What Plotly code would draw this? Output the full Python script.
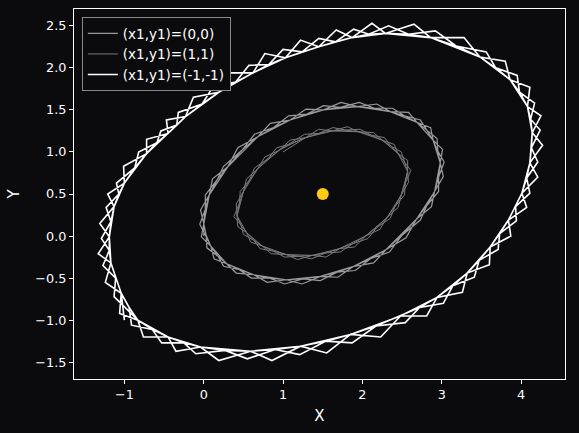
import plotly.graph_objects as go

# --- Data ---
sun_x = [1.5]
sun_y = [0.5]

# Each orbit: start point, smooth path points, path points between them,
# and the outer tips of the zig-zag (at the in-between points and at the path points).

# (x1,y1)=(-1,-1): outer orbit
outer_start = (-1.00, -1.00)
outer_path_x = [-1.04, -1.17, -1.19, -1.13, -1.00, -0.72, -0.45, -0.23, 0.19, 0.62, 1.03, 1.45, 1.87, 2.29, 2.86, 3.48,
                3.86, 4.08, 4.14, 4.11, 4.01, 3.84, 3.61, 3.32, 2.94, 2.48, 1.85, 1.22, 0.59, -0.04, -0.45, -0.83]
outer_path_y = [-0.68, -0.32, -0.01, 0.35, 0.63, 0.98, 1.22, 1.42, 1.71, 1.94, 2.12, 2.25, 2.36, 2.41, 2.36, 2.13,
                1.86, 1.54, 1.23, 0.87, 0.51, 0.19, -0.13, -0.44, -0.73, -0.95, -1.17, -1.31, -1.37, -1.32, -1.20, -1.00]
outer_mid_x = [-1.11, -1.19, -1.17, -1.07, -0.87, -0.59, -0.34, -0.02, 0.40, 0.82, 1.24, 1.66, 2.08, 2.58, 3.18, 3.68,
               3.98, 4.12, 4.13, 4.07, 3.93, 3.73, 3.47, 3.14, 2.72, 2.17, 1.54, 0.90, 0.27, -0.25, -0.65, -0.94]
outer_mid_y = [-0.50, -0.17, 0.17, 0.50, 0.81, 1.11, 1.32, 1.57, 1.83, 2.04, 2.19, 2.31, 2.40, 2.40, 2.26, 2.00,
               1.71, 1.39, 1.05, 0.69, 0.35, 0.03, -0.29, -0.59, -0.85, -1.07, -1.25, -1.35, -1.36, -1.27, -1.11, -0.85]
outer_tip_mid_x = [-1.24, -1.33, -1.31, -1.21, -1.01, -0.72, -0.47, -0.13, 0.31, 0.77, 1.22, 1.67, 2.12, 2.65, 3.28, 3.80,
                   4.11, 4.25, 4.27, 4.21, 4.07, 3.87, 3.60, 3.26, 2.81, 2.23, 1.55, 0.86, 0.19, -0.35, -0.76, -1.06]
outer_tip_mid_y = [-0.55, -0.21, 0.15, 0.50, 0.83, 1.15, 1.38, 1.65, 1.94, 2.17, 2.33, 2.45, 2.53, 2.52, 2.36, 2.08,
                   1.77, 1.43, 1.08, 0.70, 0.34, 0.00, -0.34, -0.67, -0.95, -1.20, -1.39, -1.48, -1.48, -1.37, -1.20, -0.92]
outer_tip_path_x = [-1.13, -1.27, -1.29, -1.23, -1.10, -0.82, -0.54, -0.32, 0.12, 0.57, 1.00, 1.45, 1.89, 2.33, 2.92, 3.56,
                    3.95, 4.17, 4.24, 4.21, 4.11, 3.94, 3.71, 3.41, 3.02, 2.54, 1.87, 1.21, 0.55, -0.10, -0.53, -0.91]
outer_tip_path_y = [-0.72, -0.35, -0.03, 0.34, 0.63, 1.00, 1.25, 1.47, 1.78, 2.03, 2.22, 2.35, 2.46, 2.50, 2.44, 2.19,
                    1.91, 1.58, 1.26, 0.88, 0.51, 0.18, -0.16, -0.49, -0.80, -1.03, -1.27, -1.41, -1.46, -1.40, -1.27, -1.06]

# (x1,y1)=(0,0): middle orbit
middle_start = (0.00, 0.00)
middle_path_x = [0.00, 0.07, 0.30, 0.68, 1.09, 1.51, 1.94, 2.35, 2.69, 2.89, 2.98, 2.91, 2.68, 2.30, 1.89, 1.47, 1.04, 0.63, 0.29, 0.09]
middle_path_y = [0.15, 0.49, 0.82, 1.18, 1.38, 1.50, 1.54, 1.48, 1.35, 1.14, 0.87, 0.53, 0.20, -0.16, -0.36, -0.48, -0.52, -0.46, -0.33, -0.12]
middle_mid_x = [0.02, 0.17, 0.48, 0.88, 1.30, 1.72, 2.15, 2.53, 2.81, 2.95, 2.96, 2.81, 2.50, 2.10, 1.68, 1.25, 0.83, 0.45, 0.18, 0.03]
middle_mid_y = [0.32, 0.67, 1.02, 1.29, 1.45, 1.53, 1.52, 1.43, 1.26, 1.01, 0.70, 0.36, 0.01, -0.27, -0.43, -0.51, -0.50, -0.40, -0.24, 0.01]
middle_tip_mid_x = [-0.04, 0.11, 0.43, 0.84, 1.29, 1.73, 2.18, 2.58, 2.86, 3.01, 3.02, 2.87, 2.55, 2.14, 1.69, 1.24, 0.80, 0.41, 0.13, -0.03]
middle_tip_mid_y = [0.31, 0.68, 1.05, 1.34, 1.51, 1.59, 1.57, 1.47, 1.29, 1.03, 0.71, 0.35, -0.02, -0.32, -0.49, -0.57, -0.55, -0.44, -0.27, -0.01]
middle_tip_path_x = [-0.05, 0.02, 0.25, 0.64, 1.07, 1.51, 1.96, 2.38, 2.73, 2.94, 3.03, 2.96, 2.73, 2.34, 1.91, 1.47, 1.02, 0.60, 0.25, 0.04]
middle_tip_path_y = [0.14, 0.49, 0.83, 1.21, 1.43, 1.55, 1.59, 1.52, 1.38, 1.16, 0.88, 0.53, 0.19, -0.19, -0.41, -0.53, -0.57, -0.50, -0.36, -0.14]

# (x1,y1)=(1,1): inner orbit
inner_start = (1.00, 1.00)
inner_path_x = [0.42, 0.50, 0.68, 0.95, 1.28, 1.62, 1.95, 2.25, 2.45, 2.57, 2.49, 2.31, 2.04, 1.71, 1.37, 1.04, 0.74, 0.54]
inner_path_y = [0.24, 0.53, 0.80, 1.02, 1.17, 1.25, 1.24, 1.14, 0.98, 0.77, 0.49, 0.22, 0.00, -0.15, -0.23, -0.22, -0.12, 0.04]
inner_mid_x = [0.45, 0.58, 0.81, 1.11, 1.45, 1.79, 2.11, 2.36, 2.53, 2.54, 2.41, 2.18, 1.88, 1.54, 1.20, 0.88, 0.63, 0.47]
inner_mid_y = [0.39, 0.67, 0.92, 1.10, 1.22, 1.26, 1.20, 1.07, 0.88, 0.63, 0.35, 0.10, -0.09, -0.20, -0.24, -0.18, -0.05, 0.13]
inner_tip_mid_x = [0.41, 0.54, 0.77, 1.09, 1.45, 1.81, 2.14, 2.40, 2.57, 2.58, 2.45, 2.22, 1.90, 1.54, 1.18, 0.85, 0.59, 0.43]
inner_tip_mid_y = [0.38, 0.68, 0.94, 1.14, 1.27, 1.30, 1.23, 1.09, 0.90, 0.64, 0.34, 0.08, -0.13, -0.25, -0.28, -0.21, -0.07, 0.11]
inner_tip_path_x = [0.38, 0.46, 0.64, 0.92, 1.27, 1.63, 1.97, 2.28, 2.49, 2.61, 2.53, 2.35, 2.07, 1.72, 1.36, 1.02, 0.71, 0.50]
inner_tip_path_y = [0.23, 0.53, 0.81, 1.05, 1.21, 1.29, 1.27, 1.17, 1.00, 0.78, 0.49, 0.21, -0.03, -0.19, -0.27, -0.25, -0.15, 0.02]

x_ticks = [-1, 0, 1, 2, 3, 4]
x_ticklabels = ['\u22121', '0', '1', '2', '3', '4']
y_ticks = [-1.5, -1.0, -0.5, 0.0, 0.5, 1.0, 1.5, 2.0, 2.5]
y_ticklabels = ['\u22121.5', '\u22121.0', '\u22120.5', '0.0', '0.5', '1.0', '1.5', '2.0', '2.5']


def trace_orbit(start, px, py, mx, my, tmx, tmy, tpx, tpy, shift=0):
    """Join the read points in drawing order: zig-zag pass, smooth passes, second zig-zag pass."""
    n = len(px)
    order = [(i + shift) % n for i in range(n)]
    xs, ys = [start[0]], [start[1]]
    for i in order:                      # tips between path points
        xs += [px[i], tmx[i]]
        ys += [py[i], tmy[i]]
    for i in order:                      # smooth pass
        xs.append(px[i])
        ys.append(py[i])
    for i in order:                      # tips on path points
        xs += [tpx[i], mx[i]]
        ys += [tpy[i], my[i]]
    for i in order:                      # smooth pass through all read points
        xs += [px[i], mx[i]]
        ys += [py[i], my[i]]
    xs.append(px[order[0]])
    ys.append(py[order[0]])
    return xs, ys


ox, oy = trace_orbit(outer_start, outer_path_x, outer_path_y, outer_mid_x, outer_mid_y,
                     outer_tip_mid_x, outer_tip_mid_y, outer_tip_path_x, outer_tip_path_y)
mx_, my_ = trace_orbit(middle_start, middle_path_x, middle_path_y, middle_mid_x, middle_mid_y,
                       middle_tip_mid_x, middle_tip_mid_y, middle_tip_path_x, middle_tip_path_y)
ix, iy = trace_orbit(inner_start, inner_path_x, inner_path_y, inner_mid_x, inner_mid_y,
                     inner_tip_mid_x, inner_tip_mid_y, inner_tip_path_x, inner_tip_path_y, shift=4)

# --- Figure ---
BG = '#0b0b0d'
fig = go.Figure()

fig.add_trace(go.Scatter(x=mx_, y=my_, mode='lines', name='(x1,y1)=(0,0)',
                         line=dict(color='#9a9a9a', width=1.2)))
fig.add_trace(go.Scatter(x=ix, y=iy, mode='lines', name='(x1,y1)=(1,1)',
                         line=dict(color='#7a7a7a', width=1.0)))
fig.add_trace(go.Scatter(x=ox, y=oy, mode='lines', name='(x1,y1)=(-1,-1)',
                         line=dict(color='white', width=1.6)))
fig.add_trace(go.Scatter(x=sun_x, y=sun_y, mode='markers', showlegend=False,
                         marker=dict(color='#ffc813', size=12, line=dict(width=0))))

axis_common = dict(showgrid=False, zeroline=False, showline=True, linecolor='white', linewidth=1,
                   mirror=True, ticks='outside', ticklen=4, tickcolor='white', automargin=False,
                   tickfont=dict(size=12.8, color='white'))

fig.update_layout(
    width=579, height=433,
    margin=dict(l=74, r=14, t=9, b=54),
    paper_bgcolor=BG, plot_bgcolor=BG,
    font=dict(family='DejaVu Sans', color='white'),
    xaxis=dict(range=[-1.635, 4.553], tickvals=x_ticks, ticktext=x_ticklabels,
               title=dict(text='X', font=dict(size=15), standoff=9), **axis_common),
    yaxis=dict(range=[-1.70, 2.70], tickvals=y_ticks, ticktext=y_ticklabels,
               title=dict(text='Y', font=dict(size=15), standoff=12), **axis_common),
    legend=dict(x=0.016, y=0.978, xanchor='left', yanchor='top', bgcolor=BG,
                bordercolor='#8a8a8a', borderwidth=1, font=dict(size=13.5, color='white'),
                itemwidth=30, tracegroupgap=0),
    showlegend=True,
)

fig.write_html("out.html", config={'displayModeBar': False},
               post_script="document.body.style.margin='0';document.body.style.background='%s';" % BG)
